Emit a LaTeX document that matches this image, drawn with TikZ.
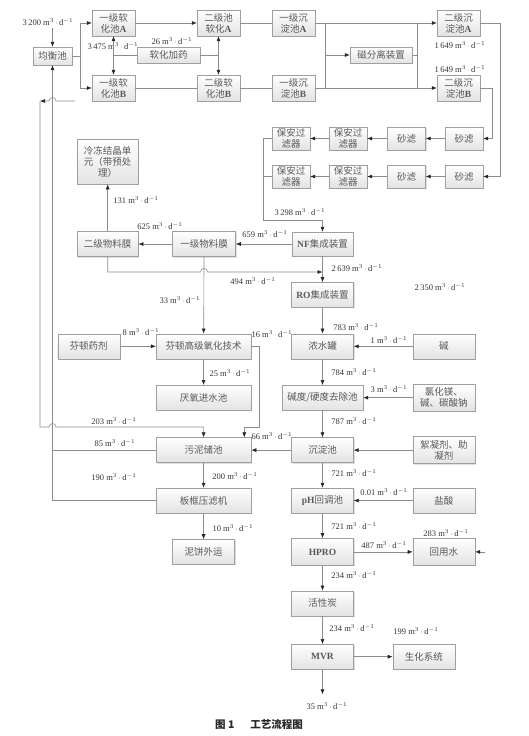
\documentclass[tikz,border=0pt]{standalone}
\usepackage{fontspec}
\setmainfont{Liberation Serif}
\newfontfamily\cjk{Noto Sans CJK SC}
\usetikzlibrary{positioning, calc, arrows.meta, shadows}
\newcommand{\mday}{m$^{3}$\,$\cdot$\,d$^{-1}$}
\newcommand{\lat}[1]{{\rmfamily\bfseries #1}}

\begin{document}
\begin{tikzpicture}[x=1pt, y=-1pt,
  Arr/.style={draw=gray!90, line width=0.6pt, -{Latex[length=5pt, width=4pt, color=black!85]}},
  DArr/.style={draw=gray!90, line width=0.6pt, {Latex[length=5pt, width=4pt, color=black!85]}-{Latex[length=5pt, width=4pt, color=black!85]}},
  Ln/.style={draw=gray!90, line width=0.6pt},
  box/.style={draw=gray!75, top color=white, bottom color=gray!22,
    drop shadow={opacity=0.25, shadow xshift=1pt, shadow yshift=-1pt},
    align=center, inner sep=1pt, minimum height=25pt, minimum width=62pt,
    text=black!65, font=\cjk\fontsize{9.5}{11}\selectfont},
  sm/.style={box, minimum width=43pt, minimum height=26pt},
  fl/.style={box, minimum width=38pt, minimum height=23pt, font=\cjk\fontsize{9.5}{10.5}\selectfont},
  flow/.style={font=\fontsize{8.5}{10}\selectfont, text=black!80, inner sep=0pt}]
  \useasboundingbox (0,0) rectangle (529,736);

  \node [box, minimum width=39pt, minimum height=18pt] (E) at (52.5,56) {均衡池};
  \node [sm] (SA1) at (113.5,23) {一级软\\化池\lat{A}};
  \node [sm] (SB1) at (113.5,88) {一级软\\化池\lat{B}};
  \node [sm] (SA2) at (218.5,23) {二级池\\软化\lat{A}};
  \node [sm] (SB2) at (218.5,88) {二级软\\化池\lat{B}};
  \node [box, minimum width=63pt, minimum height=16pt] (SD) at (168.5,55) {软化加药};
  \node [sm] (DA1) at (293.5,23) {一级沉\\淀池\lat{A}};
  \node [sm] (DB1) at (293.5,88) {一级沉\\淀池\lat{B}};
  \node [box, minimum height=16pt] (MS) at (381,55) {磁分离装置};
  \node [sm] (DA2) at (458.5,23) {二级沉\\淀池\lat{A}};
  \node [sm] (DB2) at (458.5,88) {二级沉\\淀池\lat{B}};

  \node [fl] (Q2a) at (464,138.5) {砂滤};
  \node [fl] (Q1a) at (406.5,138.5) {砂滤};
  \node [fl] (P2a) at (348,138.5) {保安过\\滤器};
  \node [fl] (P1a) at (291,138.5) {保安过\\滤器};
  \node [fl] (Q2b) at (464,176.5) {砂滤};
  \node [fl] (Q1b) at (406.5,176.5) {砂滤};
  \node [fl] (P2b) at (348,176.5) {保安过\\滤器};
  \node [fl] (P1b) at (291,176.5) {保安过\\滤器};

  \node [box, minimum width=61pt, minimum height=24pt] (NF) at (322.5,244) {\lat{NF}集成装置};
  \node [box, minimum width=63pt, left=56pt of NF] (M1) {一级物料膜};
  \node [box, minimum width=61pt, left=34pt of M1] (M2) {二级物料膜};
  \node [box, minimum width=61pt, minimum height=45pt, above=47pt of M2] (CF) {冷冻结晶单\\元（带预处\\理）};

  \node [box, below=26pt of NF] (RO) {\lat{RO}集成装置};
  \node [box, below=26pt of RO] (C) {浓水罐};
  \node [box, minimum width=81pt, below=26pt of C] (H) {碱度/硬度去除池};
  \node [box, below=27pt of H] (S) {沉淀池};
  \node [box, below=25pt of S] (P) {\lat{pH}回调池};
  \node [box, minimum height=27pt, below=25pt of P] (HP) {\lat{HPRO}};
  \node [box, below=25pt of HP] (AC) {活性炭};
  \node [box, below=28pt of AC] (MVR) {\lat{MVR}};

  \node [box, right=59pt of C] (Alk) {碱};
  \node [box, minimum height=27pt] (Mg) at (Alk |- H) {氯化镁、\\碱、碳酸钠};
  \node [box, minimum height=27pt] (Fl) at (Alk |- S) {絮凝剂、助\\凝剂};
  \node [box] (HCl) at (Alk |- P) {盐酸};
  \node [box, minimum height=27pt] (RW) at (Alk |- HP) {回用水};
  \node [box, right=39pt of MVR] (BIO) {生化系统};

  \node [box, minimum width=95pt, left=40pt of C] (FT) {芬顿高级氧化技术};
  \node [box, left=36pt of FT] (FR) {芬顿药剂};
  \node [box, minimum width=95pt, below=26pt of FT] (AN) {厌氧进水池};
  \node [box, minimum width=95pt] (SL) at (FT |- S) {污泥储池};
  \node [box, minimum width=95pt] (PF) at (FT |- P) {板框压滤机};
  \node [box, below=26pt of PF] (MC) {泥饼外运};

  \node [flow] (f3200) at (48,22) {3\,200 \mday};
  \node [flow] (f3475) at (113,46) {3\,475 \mday};
  \node [flow] (f26) at (172,41) {26 \mday};
  \node [flow] (f1649a) at (460,45) {1\,649 \mday};
  \node [flow] (f1649b) at (460,69) {1\,649 \mday};
  \node [flow] (f3298) at (300,212) {3\,298 \mday};
  \node [flow] (f131) at (136,200) {131 \mday};
  \node [flow] (f625) at (160,226) {625 \mday};
  \node [flow] (f659) at (265,234) {659 \mday};
  \node [flow] (f494) at (253,281) {494 \mday};
  \node [flow] (f2639) at (357,268) {2\,639 \mday};
  \node [flow] (f2350) at (440,287) {2\,350 \mday};
  \node [flow] (f33) at (180,300) {33 \mday};
  \node [flow] (f783) at (356,327) {783 \mday};
  \node [flow] (f1) at (389,340) {1 \mday};
  \node [flow] (f8) at (141,332) {8 \mday};
  \node [flow] (f16) at (272,334) {16 \mday};
  \node [flow] (f25) at (230,373) {25 \mday};
  \node [flow] (f784) at (354,372) {784 \mday};
  \node [flow] (f3) at (389,389) {3 \mday};
  \node [flow] (f787) at (354,421) {787 \mday};
  \node [flow] (f203) at (114,421) {203 \mday};
  \node [flow] (f85) at (115,443) {85 \mday};
  \node [flow] (f66) at (272,436) {66 \mday};
  \node [flow] (f721a) at (354,473) {721 \mday};
  \node [flow] (f190) at (114,477) {190 \mday};
  \node [flow] (f200) at (235,476) {200 \mday};
  \node [flow] (f001) at (384,492) {0.01 \mday};
  \node [flow] (f721b) at (354,526) {721 \mday};
  \node [flow] (f10) at (233,528) {10 \mday};
  \node [flow] (f283) at (446,533) {283 \mday};
  \node [flow] (f487) at (384,545) {487 \mday};
  \node [flow] (f234a) at (354,575) {234 \mday};
  \node [flow] (f234b) at (352,628) {234 \mday};
  \node [flow] (f199) at (416,631) {199 \mday};
  \node [flow] (f35) at (327,706) {35 \mday};
  \node [font=\cjk\bfseries\fontsize{10.5}{12}\selectfont, text=black!85] (cap) at (259,724) {图 1\enspace\quad 工艺流程图};

  \coordinate (m1) at ($(DA1.east)+(10,0)$);
  \coordinate (m2) at ($(DB1.east)+(10,0)$);
  \coordinate (m3) at ($(DA2.west)+(-20,0)$);
  \coordinate (m4) at ($(DB2.west)+(-20,0)$);
  \coordinate (y494) at (0,272);
  \coordinate (o1) at (75,101);
  \coordinate (o2) at (40,101);
  \coordinate (o3) at (40,427);
  \coordinate (rw) at ($(RW.east)+(10,0)$);
  \coordinate (out) at ($(MVR.south)+(0,25)$);

  \draw[Arr] ($(E.north |- f3200.south)+(0,2)$) -- (E.north);
  \draw[Arr] (E.east) -- ++(8,0) |- (SA1.west);
  \draw[Arr] (E.east) -- ++(8,0) |- (SB1.west);
  \draw[Arr] (SA1) -- (SA2);
  \draw[Ln] (SB1) -- (SB2);
  \draw[DArr] (SA1) -- (SB1);
  \draw[DArr] (SA2) -- (SB2);
  \draw[Ln] (SD.west) -- (SD.west -| SA1.south);
  \draw[Ln] (SD.east) -- (SD.east -| SA2.south);
  \draw[Ln] (SA2) -- (DA1);
  \draw[Ln] (SB2) -- (DB1);
  \draw[Arr] (DA1) -- (DA2);
  \draw[Arr] (DB1) -- (DB2);
  \draw[Ln] (m1) -- (m2);
  \draw[Ln] (m3) -- (m4);
  \draw[Arr] (m1 |- MS) -- (MS);
  \draw[Ln] (MS) -- (m3 |- MS);
  \draw[Arr] (DA2.east) -- ++(20,0) |- (Q2b.east);
  \draw[Arr] (DB2.east) -- ++(12,0) |- (Q2a.east);
  \draw[Arr] (Q2a) -- (Q1a);
  \draw[Arr] (Q1a) -- (P2a);
  \draw[Arr] (P2a) -- (P1a);
  \draw[Arr] (Q2b) -- (Q1b);
  \draw[Arr] (Q1b) -- (P2b);
  \draw[Arr] (P2b) -- (P1b);
  \draw[Ln] (P1a.west) -- ++(-9,0) coordinate (k1);
  \draw[Ln] (P1b.west) -- (P1b.west -| k1);
  \draw[Arr] (k1) |- ($(NF.north)+(0,-12)$) -- (NF.north);

  \draw[Arr] (NF) -- (M1);
  \draw[Arr] (M1) -- (M2);
  \draw[Arr] (M2) -- (CF);
  \draw[Arr] (M2.south) |- ($(M1.south |- y494)+(-3.5,0)$)
    .. controls +(0,-4.7) and +(0,-4.7) .. ($(M1.south |- y494)+(3.5,0)$) -- (NF.south |- y494);
  \draw[Arr] (M1) -- (FT);
  \draw[Arr] (NF) -- (RO);
  \draw[Arr] (RO) -- (C);
  \draw[Arr] (C) -- (H);
  \draw[Arr] (H) -- (S);
  \draw[Arr] (S) -- (P);
  \draw[Arr] (P) -- (HP);
  \draw[Arr] (HP) -- (AC);
  \draw[Arr] (AC) -- (MVR);
  \draw[Arr] (Alk) -- (C);
  \draw[Arr] (Mg) -- (H);
  \draw[Arr] (Fl) -- (S);
  \draw[Arr] (HCl) -- (P);
  \draw[Arr] (HP) -- (RW);
  \draw[Arr] (rw) -- (RW.east);
  \draw[Arr] (MVR) -- (BIO);
  \draw[Arr] (MVR) -- (out);

  \draw[Arr] (FR) -- (FT);
  \draw[Arr] (FT) -- (AN);
  \draw[Arr] (FT.east) -- ++(8,0) |- ($(SL.north east)+(-7,-10)$) -- ($(SL.north east)+(-7,0)$);
  \draw[Arr] (S) -- (SL);
  \draw[Arr] (SL) -- (PF);
  \draw[Arr] (PF) -- (MC);
  \draw[Arr] (PF.west) -| (E.south);
  \draw[Ln] (SL.west) -- (SL.west -| E.south);
  \draw[Arr] (o1) -- ($(E.south |- o1)+(3.5,0)$)
    .. controls +(0,-4.7) and +(0,-4.7) .. ($(E.south |- o1)+(-3.5,0)$) -- (o2);
  \draw[Arr] (o2) -- (o3) -- ($(E.south |- o3)+(-3.5,0)$)
    .. controls +(0,-4.7) and +(0,-4.7) .. ($(E.south |- o3)+(3.5,0)$) -| (SL.north);
\end{tikzpicture}
\end{document}
